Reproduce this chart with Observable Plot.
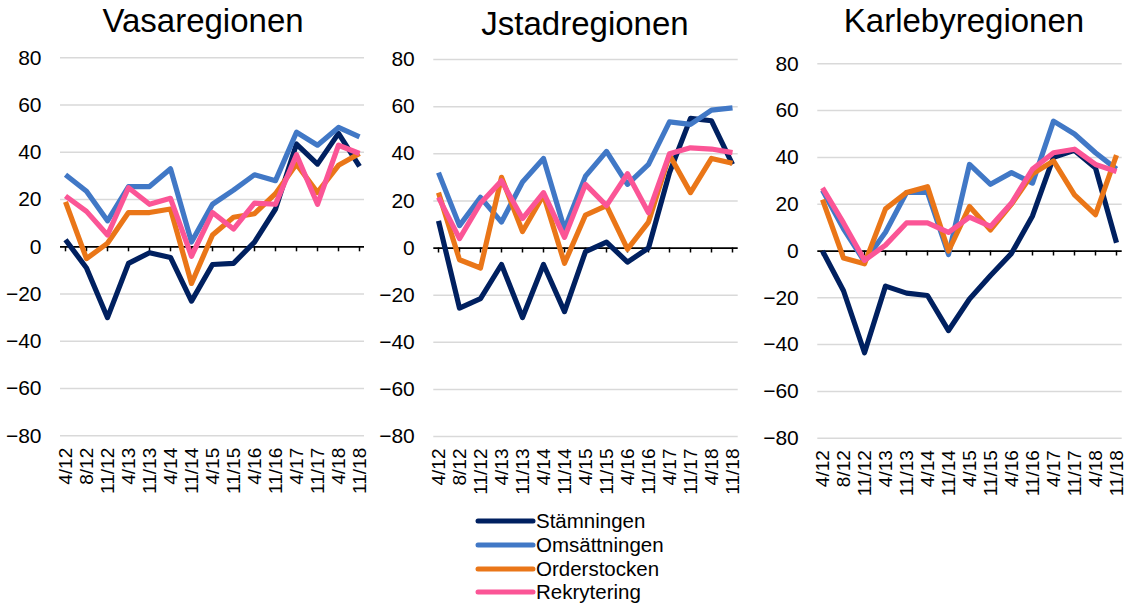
<!DOCTYPE html>
<html><head><meta charset="utf-8">
<script src="https://cdn.jsdelivr.net/npm/d3@7"></script>
<script src="https://cdn.jsdelivr.net/npm/@observablehq/plot@0.6"></script>
<style>
body{margin:0;background:#fff;font-family:"Liberation Sans",Arial,sans-serif;color:#000;}
#root{position:relative;width:1130px;height:605px;overflow:hidden;background:#fff;}
.title{position:absolute;font-size:33px;transform:translateX(-50%);white-space:nowrap;line-height:1;}
.panel{position:absolute;top:0;}
#legend{position:absolute;left:0;top:0;}
</style></head><body><div id="root"></div><script>
const categories = ["4/12","8/12","11/12","4/13","11/13","4/14","11/14","4/15","11/15","4/16","11/16","4/17","11/17","4/18","11/18"];
const seriesNames = ["Stämningen","Omsättningen","Orderstocken","Rekrytering"];
const seriesColors = ["#002060","#4178C6","#EA7618","#FB5596"];
const yTicks = [-80,-60,-40,-20,0,20,40,60,80];
const regionNames = ["Vasaregionen","Jstadregionen","Karlebyregionen"];

const vasaStamningen   = [3, -9, -30, -7, -2.5, -4.5, -23, -7.5, -7, 2, 16, 43.5, 35, 48, 34];
const vasaOmsattningen = [30.5, 23.5, 11, 25.5, 25.5, 33, 2, 18, 24, 30.5, 28, 48.5, 43, 50.5, 46.5];
const vasaOrderstocken = [19, -5, 1.5, 14.5, 14.5, 16, -15.5, 5, 12.5, 14, 22.5, 35, 23, 34.5, 39.5];
const vasaRekrytering  = [21.5, 15, 5, 25, 18, 20.5, -4, 14.5, 7.5, 18.5, 18, 39, 18, 43, 39.5];

const jstadStamningen   = [11.5, -25.5, -21.5, -7, -29.5, -7, -27, -1.5, 2.5, -6, 0, 32, 55, 54, 35.5];
const jstadOmsattningen = [32, 9.5, 21.5, 11, 28, 38, 8, 30.5, 41, 27, 35.5, 53.5, 52.5, 58.5, 59.5];
const jstadOrderstocken = [23.5, -5, -8.5, 30, 7, 22.5, -6.5, 14, 18, -0.5, 11, 39.5, 23.5, 38, 36];
const jstadRekrytering  = [21.5, 4, 19, 28.5, 12.5, 23.5, 4.5, 27, 18, 31.5, 15, 40, 42.5, 42, 40.5];

const karlebyStamningen   = [0, -17, -43.5, -15, -18, -19, -34, -20.5, -10.5, -1, 15, 40, 43, 35.5, 3.5];
const karlebyOmsattningen = [26, 9.5, -4.5, 8, 25, 25, -1.5, 37, 28.5, 33.5, 29, 55.5, 50, 42, 35];
const karlebyOrderstocken = [22, -3, -5.5, 18, 25, 27.5, 0, 19, 9, 20, 33, 38.5, 24, 15.5, 41];
const karlebyRekrytering  = [27, 12, -4, 2.5, 12, 12, 8, 14.5, 10.5, 20.5, 35, 42, 43.5, 37, 34];

const regionSeries = [
  [vasaStamningen, vasaOmsattningen, vasaOrderstocken, vasaRekrytering],
  [jstadStamningen, jstadOmsattningen, jstadOrderstocken, jstadRekrytering],
  [karlebyStamningen, karlebyOmsattningen, karlebyOrderstocken, karlebyRekrytering]
];

// layout (positions only)
const layout = [
  {left: 0,   width: 374, ml: 60,   mr: 10,  mt: 57.3, mb: 84.7, tx: 203, tb: 31.5},
  {left: 374, width: 374, ml: 59.3, mr: 10.3, mt: 59,  mb: 84,   tx: 585, tb: 35},
  {left: 748, width: 382, ml: 69.3, mr: 8.3, mt: 63.3, mb: 82.3, tx: 964, tb: 32}
];
const H = 520;
const root = document.getElementById("root");

regionNames.forEach((name, r) => {
  const L = layout[r];
  const rows = [];
  seriesNames.forEach((s, k) => {
    regionSeries[r][k].forEach((v, i) => rows.push({cat: categories[i], v, s}));
  });
  const chart = Plot.plot({
    width: L.width, height: H,
    marginLeft: L.ml, marginRight: L.mr, marginTop: L.mt, marginBottom: L.mb,
    style: {fontFamily: '"Liberation Sans", Arial, sans-serif', fontSize: "20px", color: "#000", background: "transparent", overflow: "visible"},
    x: {type: "point", domain: categories, padding: 0},
    y: {domain: [-80, 80]},
    color: {domain: seriesNames, range: seriesColors},
    marks: [
      Plot.gridY(yTicks.filter(t => t !== 0), {stroke: "#d9d9d9", strokeOpacity: 1, strokeWidth: 1.5}),
      Plot.axisY(yTicks, {tickSize: 0, tickPadding: 19, fontSize: 21, label: null}),
      Plot.axisX({tickSize: 0, tickRotate: -90, tickPadding: 12, fontSize: 19, label: null}),
      Plot.ruleY([0], {stroke: "#000", strokeWidth: 1.75}),
      Plot.ruleX(categories, {x: d => d, y1: 0, y2: 0, insetBottom: -5, stroke: "#000", strokeWidth: 1.5}),
      Plot.line(rows, {x: "cat", y: "v", z: "s", stroke: "s", strokeWidth: 5.2, strokeLinejoin: "round", strokeLinecap: "butt"})
    ]
  });
  chart.classList.add("panel");
  chart.style.left = L.left + "px";
  root.appendChild(chart);

  const t = document.createElement("div");
  t.className = "title";
  t.textContent = name;
  t.style.left = L.tx + "px";
  t.style.top = (L.tb - 0.8465 * 33) + "px";
  root.appendChild(t);
});

// legend
const legendY = [521, 545, 569, 592];
const svg = d3.select(root).append("svg").attr("id", "legend").attr("width", 1130).attr("height", 605);
seriesNames.forEach((s, k) => {
  svg.append("line").attr("x1", 478).attr("x2", 533).attr("y1", legendY[k]).attr("y2", legendY[k])
    .attr("stroke", seriesColors[k]).attr("stroke-width", 5).attr("stroke-linecap", "round");
  svg.append("text").attr("x", 536).attr("y", legendY[k] + 7).attr("font-size", 20.5)
    .attr("font-family", '"Liberation Sans", Arial, sans-serif').attr("fill", "#000").text(s);
});
</script></body></html>
